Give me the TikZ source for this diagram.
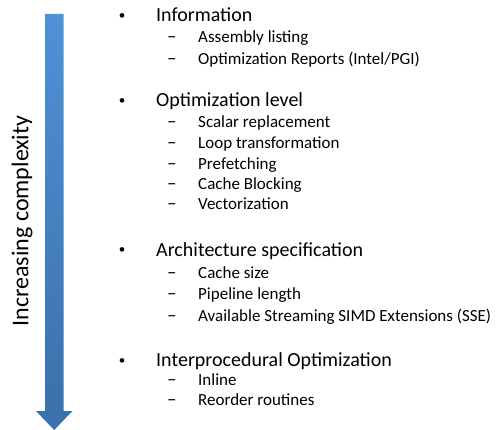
\documentclass[tikz,border=0pt]{standalone}
\usepackage{fontspec}
\setmainfont{Carlito}
\begin{document}
\begin{tikzpicture}[x=1pt,y=-1pt,
  head/.style={anchor=base west,inner sep=0pt,font=\fontsize{20}{24}\selectfont},
  sub/.style={anchor=base west,inner sep=0pt,font=\fontsize{17}{20}\selectfont},
  bul/.style={anchor=base,inner sep=0pt,font=\fontsize{13}{16}\selectfont},
  dsh/.style={anchor=base west,inner sep=0pt,font=\fontsize{19}{20}\selectfont},
  lbl/.style={rotate=90,inner sep=0pt,font=\fontsize{24}{28}\selectfont}]
\useasboundingbox (0,0) rectangle (500,430);
% shaded arrow down the left side
\shade[top color={rgb,255:red,80;green,145;blue,215},bottom color={rgb,255:red,58;green,112;blue,170}]
  (45,14) -- (63.5,14) -- (63.5,411) -- (72.5,411) -- (54.2,430) -- (36,411) -- (45,411) -- cycle;
\node[lbl] (axis) at (22,221) {Increasing complexity};
% top-level items
\foreach \n/\y/\t in {h1/22/{Information}, h2/107/{Optimization level}, h3/256/{Architecture specification}, h4/366/{Interprocedural Optimization}}{
  \node[bul] (b\n) at (122,\y-2) {•};
  \node[head] (\n) at (156,\y) {\t};
}
% second-level items
\foreach \n/\y/\t in {s1/43/{Assembly listing}, s2/65/{Optimization Reports (Intel/PGI)},
  s3/128/{Scalar replacement}, s4/149/{Loop transformation}, s5/170/{Prefetching}, s6/190/{Cache Blocking}, s7/210/{Vectorization},
  s8/278/{Cache size}, s9/299/{Pipeline length}, s10/321/{Available Streaming SIMD Extensions (SSE)},
  s11/385/{Inline}, s12/405/{Reorder routines}}{
  \node[dsh] (d\n) at (167,\y) {–};
  \node[sub] (\n) at (198,\y) {\t};
}
\end{tikzpicture}
\end{document}
